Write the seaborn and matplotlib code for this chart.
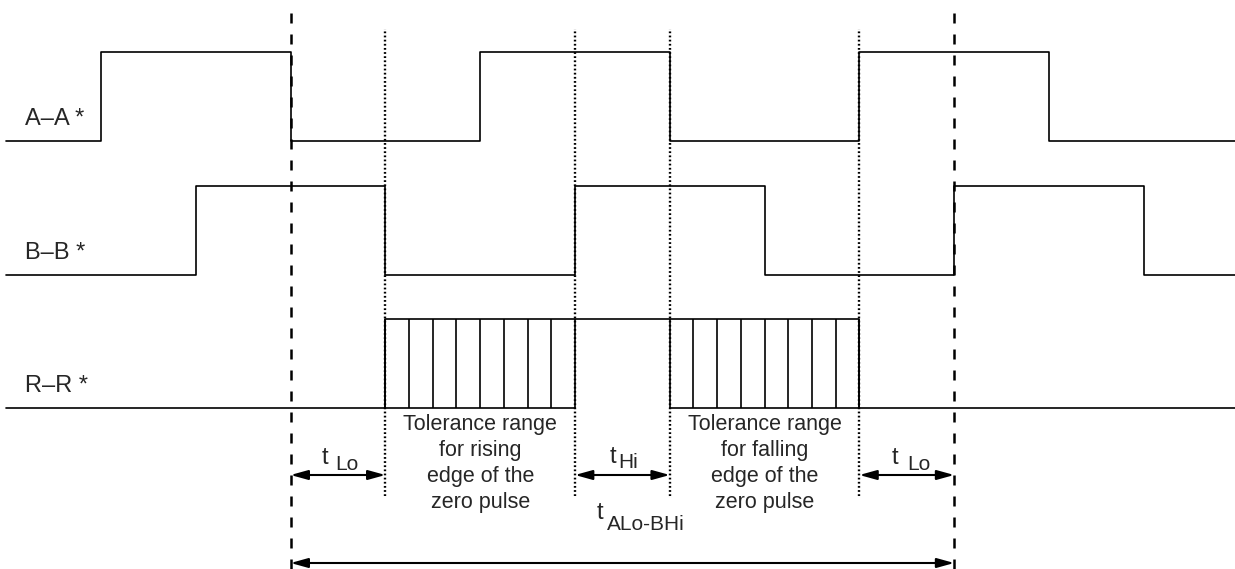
"""Incremental encoder signal timing (A, B and reference pulse R)"""
import numpy as np
import pandas as pd
import seaborn as sns
from matplotlib import pyplot as plt

# time axis in quarter periods of the A/B signals
T_START, T_END = -1, 12
A_EDGES = [0, 2, 4, 6, 8, 10]          # A starts low
B_EDGES = [1, 3, 5, 7, 9, 11]          # B starts low
R_RISE_WINDOW = (3, 5)                 # tolerance range for rising edge
R_FALL_WINDOW = (6, 8)                 # tolerance range for falling edge
HATCH_STEP = 0.25
SIGNAL_NAMES = ["A–A *", "B–B *", "R–R *"]
DASHED_MARKS = [2, 9]
DOTTED_MARKS = [3, 5, 6, 8]
INTERVALS = [(2, 3, "Lo"), (5, 6, "Hi"), (8, 9, "Lo")]
TOTAL_INTERVAL = (2, 9, "ALo-BHi")
TOLERANCE_TEXTS = [
    "Tolerance range\nfor rising\nedge of the\nzero pulse",
    "Tolerance range\nfor falling\nedge of the\nzero pulse",
]

ROW_GAP = 1.5
X0_PX, UNIT_PX = 101, 94.8
Y0_PX, AMP_PX = 141, 89
W, H = 1235, 569


def px_y(p):
    return (Y0_PX - p) / AMP_PX


def square_wave(edges):
    t = [T_START] + list(edges) + [T_END]
    lvl = [0] + [(i + 1) % 2 for i in range(len(edges))] + [len(edges) % 2]
    return pd.DataFrame({"t": t, "level": lvl})


sns.set_theme(style="white")
plt.rcParams["font.family"] = ["Liberation Sans", "DejaVu Sans"]

fig = plt.figure(figsize=(W / 100, H / 100), dpi=100)
ax = fig.add_axes([0, 0, 1, 1])
ax.set_xlim(-X0_PX / UNIT_PX, (W - X0_PX) / UNIT_PX)
ax.set_ylim(px_y(H), px_y(0))
ax.axis("off")

LW = 1.2
line_kw = dict(color="black", lw=LW, drawstyle="steps-post", estimator=None, sort=False, ax=ax)

# A and B square waves
for row, edges in enumerate([A_EDGES, B_EDGES]):
    df = square_wave(edges)
    df["y"] = df["level"] - row * ROW_GAP
    sns.lineplot(data=df, x="t", y="y", **line_kw)

# R: reference pulse with tolerance windows
r_base = -2 * ROW_GAP
r_df = square_wave([R_RISE_WINDOW[0], R_FALL_WINDOW[1]])
r_df["y"] = r_df["level"] + r_base
sns.lineplot(data=r_df, x="t", y="y", **line_kw)
for lo, hi in [R_RISE_WINDOW, R_FALL_WINDOW]:
    ax.plot([lo, hi], [r_base, r_base], color="black", lw=LW)
    ax.vlines(np.arange(lo, hi + HATCH_STEP / 2, HATCH_STEP), r_base, r_base + 1,
              color="black", lw=LW)

# row labels
for row, name in enumerate(SIGNAL_NAMES):
    ax.text((25 - X0_PX) / UNIT_PX, -row * ROW_GAP + 16 / AMP_PX, name,
            fontsize=17, ha="left", va="baseline")

# reference marker lines
ax.vlines(DASHED_MARKS, px_y(H), px_y(8), color="black", lw=1.8,
          linestyles=[(0, (4.0, 4.4))])
ax.vlines(DOTTED_MARKS, px_y(496), px_y(29), color="black", lw=1.7,
          linestyles=[(0, (0.75, 1.0))])

# tolerance text
for (lo, hi), txt in zip([R_RISE_WINDOW, R_FALL_WINDOW], TOLERANCE_TEXTS):
    ax.text((lo + hi) / 2, px_y(414), txt, fontsize=15.5, ha="center", va="top",
            linespacing=1.32)

arrow_kw = dict(arrowstyle="<|-|>,head_length=0.65,head_width=0.18", color="black",
                lw=1.5, mutation_scale=16, shrinkA=0, shrinkB=0)
y_arr = px_y(475)
offsets = {(2, 3): (-10, 11, -3, 5), (5, 6): (-6, 12, -4, 7), (8, 9): (-9, 11, 0, 5)}
for lo, hi, sub in INTERVALS:
    ax.annotate("", xy=(hi, y_arr), xytext=(lo, y_arr), arrowprops=arrow_kw)
    mid = (lo + hi) / 2
    dtx, dty, dsx, dsy = offsets[(lo, hi)]
    ax.annotate("t", xy=(mid, y_arr), xytext=(dtx, dty), textcoords="offset pixels",
                fontsize=17, ha="right", va="baseline")
    ax.annotate(sub, xy=(mid, y_arr), xytext=(dsx, dsy), textcoords="offset pixels",
                fontsize=15, ha="left", va="baseline")

# total interval
lo, hi, sub = TOTAL_INTERVAL
y_tot = px_y(563)
ax.annotate("", xy=(hi, y_tot), xytext=(lo, y_tot), arrowprops=arrow_kw)
mid = (INTERVALS[1][0] + INTERVALS[1][1]) / 2
ax.annotate("t", xy=(mid, y_arr), xytext=(-19, -44), textcoords="offset pixels",
            fontsize=17, ha="right", va="baseline")
ax.annotate(sub, xy=(mid, y_arr), xytext=(-15, -55), textcoords="offset pixels",
            fontsize=15, ha="left", va="baseline")

fig.savefig("out.png", dpi=100, facecolor="white")
